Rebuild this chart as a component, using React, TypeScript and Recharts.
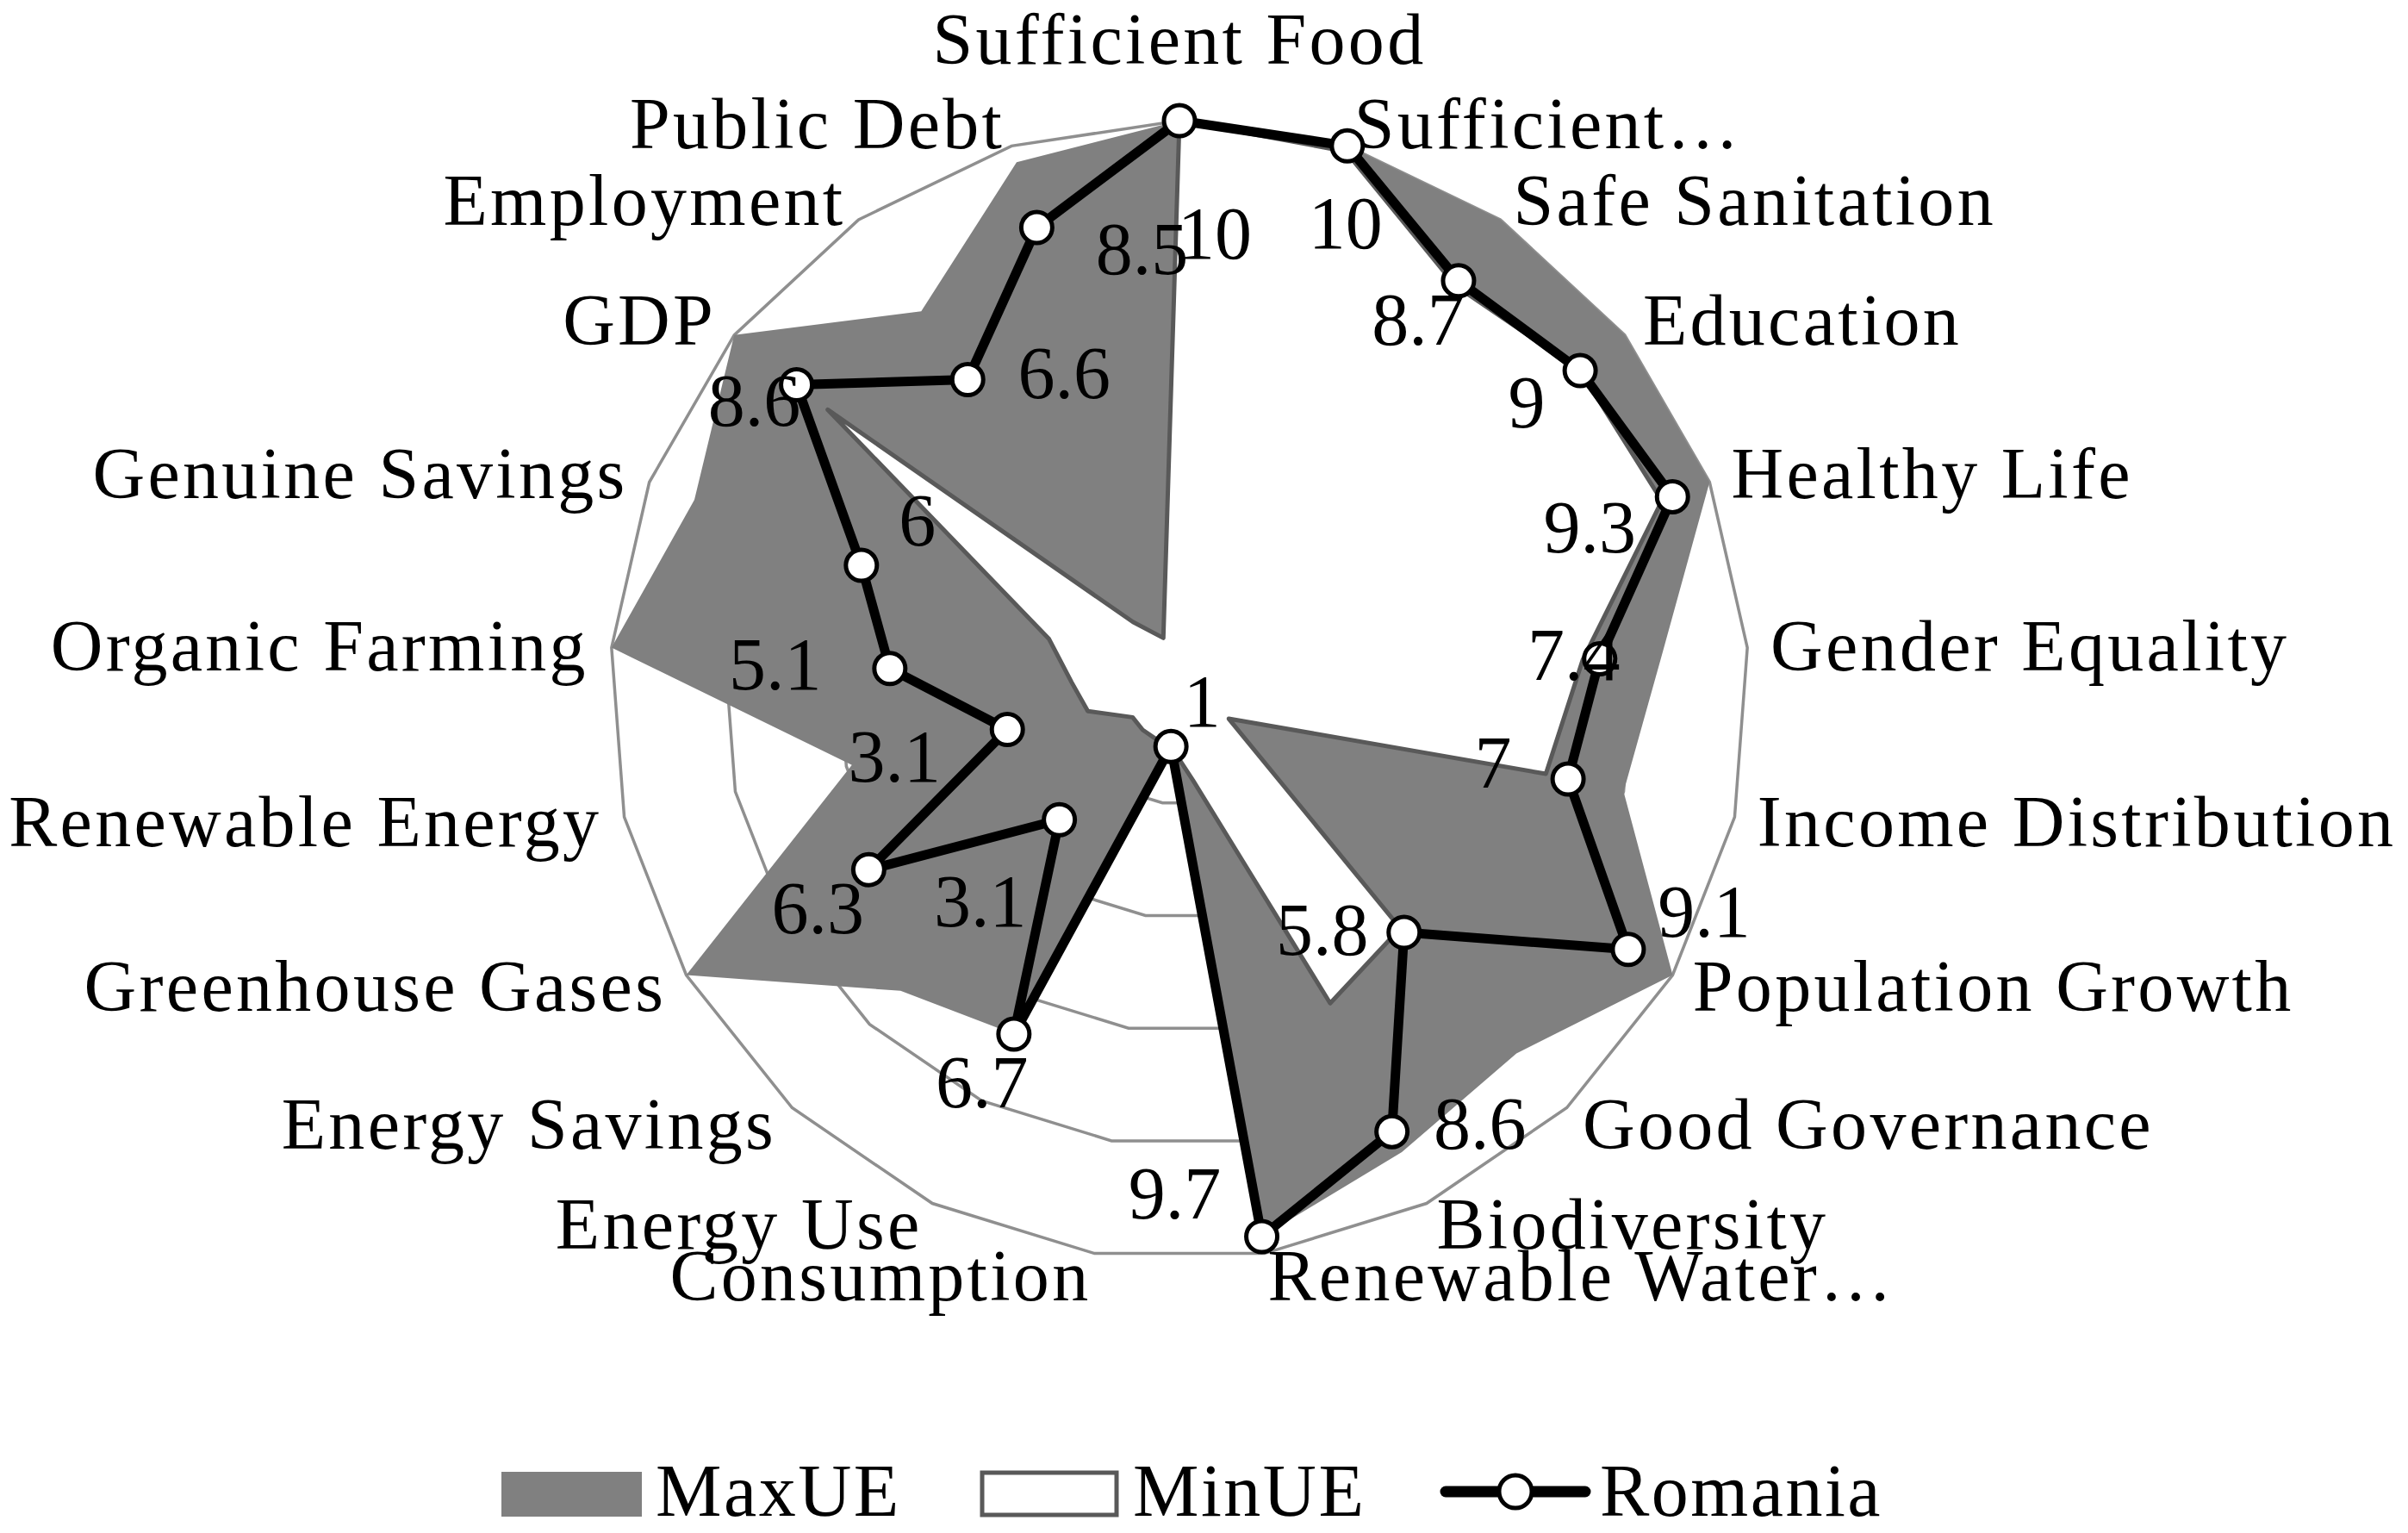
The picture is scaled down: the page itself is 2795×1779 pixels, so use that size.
import React from 'react';
import { RadarChart, Radar, PolarGrid, PolarAngleAxis, PolarRadiusAxis, Legend } from 'recharts';

// categories, clockwise from the top
const categories = [
  'Sufficient Food',
  'Sufficient…',
  'Safe Sanitation',
  'Education',
  'Healthy Life',
  'Gender Equality',
  'Income Distribution',
  'Population Growth',
  'Good Governance',
  'Biodiversity',
  'Renewable Water…',
  'Consumption',
  'Energy Use',
  'Energy Savings',
  'Greenhouse Gases',
  'Renewable Energy',
  'Organic Farming',
  'Genuine Savings',
  'GDP',
  'Employment',
  'Public Debt',
];

const maxUE = [10, 10, 10, 10, 10, 8.5, 8.0, 10, 8.7, 9.0, 9.7, 1.0, 6.7, 7.2, 10, 5.9, 10, 9.15, 10, 8.05, 9.7];
const minUE = [10, 9.9, 8.6, 9.0, 9.1, 7.1, 6.6, 1.0, 5.7, 6.1, 1.6, 1.0, 0.95, 0.95, 0.95, 1.65, 1.9, 2.46, 7.9, 1.45, 0.96];
const romania = [10, 10, 8.7, 9, 9.3, 7.4, 7, 9.1, 5.8, 8.6, 9.7, 1, 6.7, 3.1, 6.3, 3.1, 5.1, 6, 8.6, 6.6, 8.5];

const chartData = categories.map((name, i) => ({
  name,
  MaxUE: maxUE[i],
  MinUE: minUE[i],
  Romania: romania[i],
}));

const W = 2795;
const H = 1779;
const CX = 1369;
const CY = 801;
const R = 661;
const LABEL_R = 688;
const FONT = '"Liberation Serif", "Times New Roman", serif';

// where each Romania value label sits relative to its marker
const labelOffsets: [number, number][] = [
  [41, 131], [-2, 90], [-47, 45], [-62, 37], [-96, 36], [-30, -4], [-87, -19],
  [88, -44], [-95, -3], [102, -9], [-101, -50], [36, -52], [-37, 56], [-92, 95],
  [-59, 45], [-131, 31], [-133, -5], [65, -52], [-49, 18], [112, -8], [122, 25],
];

const AngleTick = (props: any) => {
  const { payload, index } = props;
  const i = typeof index === 'number' ? index : payload?.index ?? 0;
  const deg = typeof payload?.coordinate === 'number' ? payload.coordinate : 90 - (i * 360) / categories.length;
  const a = (deg * Math.PI) / 180;
  const dx = Math.cos(a);
  const dy = -Math.sin(a);
  const x = CX + dx * LABEL_R;
  const y = CY + dy * LABEL_R;
  let anchor: 'start' | 'middle' | 'end' = 'middle';
  if (dx > 0.05) anchor = 'start';
  else if (dx < -0.05) anchor = 'end';
  const baseY = anchor === 'middle' ? y - 39 : y + 28;
  return (
    <text x={x} y={baseY} textAnchor={anchor} fontFamily={FONT} fontSize={84} letterSpacing={3.3} fill="#000">
      {payload.value}
    </text>
  );
};

const RomaniaDot = (props: any) => {
  const { cx, cy, index } = props;
  const [ox, oy] = labelOffsets[index] || [0, 0];
  const v = romania[index];
  return (
    <g key={`rd-${index}`}>
      <circle cx={cx} cy={cy} r={18} fill="#fff" stroke="#000" strokeWidth={5} />
      <text x={cx + ox} y={cy + oy + 29} textAnchor="middle" fontFamily={FONT} fontSize={86} fill="#000">
        {v}
      </text>
    </g>
  );
};

const LEG_TOP = 1680;

const LegendContent = () => (
  <svg width={W} height={H - LEG_TOP} style={{ display: 'block' }}>
    <g transform={`translate(0, ${-LEG_TOP})`} fontFamily={FONT} fontSize={86} letterSpacing={2.5}>
      <rect x={582} y={1708} width={163} height={52} fill="#808080" />
      <text x={761} y={1759}>MaxUE</text>
      <rect x={1140} y={1709} width={156} height={49} fill="#fff" stroke="#595959" strokeWidth={5} />
      <text x={1315} y={1759}>MinUE</text>
      <line x1={1678} y1={1731} x2={1840} y2={1731} stroke="#000" strokeWidth={13} strokeLinecap="round" />
      <circle cx={1759} cy={1731} r={19} fill="#fff" stroke="#000" strokeWidth={5} />
      <text x={1857} y={1759}>Romania</text>
    </g>
  </svg>
);

export default function App() {
  return (
    <div style={{ position: 'absolute', left: 0, top: 0, width: W, height: H, background: '#fff' }}>
      <RadarChart
        width={W}
        height={H}
        data={chartData}
        cx={CX}
        cy={CY}
        outerRadius={R}
        margin={{ top: 0, right: 0, bottom: 0, left: 0 }}
      >
        <PolarGrid gridType="polygon" radialLines={false} stroke="#8f8f8f" strokeWidth={3.5} />
        <PolarAngleAxis dataKey="name" tick={<AngleTick />} axisLine={false} tickLine={false} />
        <PolarRadiusAxis domain={[0, 10]} tickCount={6} tick={false} axisLine={false} />
        <Radar
          name="MaxUE"
          dataKey="MaxUE"
          fill="#808080"
          fillOpacity={1}
          stroke="none"
          dot={false}
          isAnimationActive={false}
        />
        <Radar
          name="MinUE"
          dataKey="MinUE"
          fill="#ffffff"
          fillOpacity={1}
          stroke="#595959"
          strokeWidth={5}
          strokeLinejoin="round"
          dot={false}
          isAnimationActive={false}
        />
        <Radar
          name="Romania"
          dataKey="Romania"
          fill="none"
          fillOpacity={0}
          stroke="#000"
          strokeWidth={11}
          strokeLinejoin="round"
          dot={RomaniaDot}
          isAnimationActive={false}
        />
        <Legend
          verticalAlign="bottom"
          wrapperStyle={{ position: 'absolute', left: 0, top: LEG_TOP, width: W, height: H - LEG_TOP }}
          content={() => <LegendContent />}
        />
      </RadarChart>
    </div>
  );
}
